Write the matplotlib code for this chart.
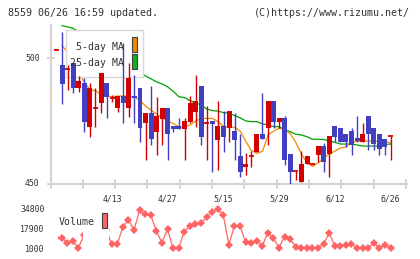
import numpy as np
import matplotlib
matplotlib.use("Agg")
import matplotlib.pyplot as plt
from matplotlib.patches import Rectangle
import matplotlib.transforms as mtransforms

# ---------------- data ----------------
date_labels = ["4/13", "4/27", "5/15", "5/29", "6/12", "6/26"]
date_label_idx = [10, 20, 30, 40, 50, 60]

opens = [503.3, 497.3, 495.6, 498.2, 488.1, 490.3, 472.8, 480.1, 482.1, 490.3,
         484.4, 480.1, 485.1, 480.1, 485.1, 488.3, 474.1, 478.1, 470.8, 475.7,
         480.1, 473.1, 473.1, 471.9, 474.8, 478.5, 489.0, 474.1, 475.1, 467.5,
         473.1, 472.2, 471.1, 461.1, 456.9, 461.1, 462.9, 469.9, 472.2, 483.0,
         474.8, 476.1, 461.9, 455.2, 450.9, 457.8, 457.8, 461.5, 465.1, 461.8,
         473.1, 472.2, 469.9, 471.1, 468.2, 466.8, 477.2, 472.2, 469.9, 468.0,
         469.0]
highs = [503.3, 510.3, 497.3, 498.2, 493.1, 492.0, 490.1, 488.1, 494.0, 490.3,
         485.5, 485.1, 506.0, 498.0, 493.4, 488.3, 478.1, 489.0, 484.7, 480.1,
         480.1, 473.1, 476.1, 476.1, 485.0, 493.4, 489.0, 481.0, 475.1, 483.0,
         479.0, 479.0, 478.1, 469.9, 462.2, 463.1, 469.9, 486.3, 483.0, 483.0,
         476.1, 477.1, 461.9, 455.2, 463.1, 461.1, 458.0, 465.1, 466.2, 469.1,
         473.1, 472.2, 469.9, 472.2, 477.2, 474.4, 477.2, 472.2, 469.9, 468.0,
         469.0]
lows = [503.3, 481.8, 487.4, 486.1, 486.7, 470.8, 468.8, 472.8, 478.1, 476.1,
        482.5, 478.5, 474.1, 476.8, 474.1, 466.8, 459.5, 465.5, 461.5, 465.5,
        459.5, 470.8, 471.9, 459.5, 474.1, 472.8, 465.5, 459.5, 454.9, 455.6,
        462.9, 466.8, 459.5, 452.9, 453.6, 456.9, 462.9, 467.8, 465.5, 472.2,
        472.2, 457.6, 449.6, 451.6, 450.9, 457.8, 457.6, 458.9, 454.9, 452.9,
        466.8, 466.8, 464.8, 461.5, 466.8, 466.8, 463.5, 463.5, 461.5, 461.5,
        459.5]
closes = [503.3, 489.8, 495.6, 488.1, 491.0, 474.8, 488.1, 480.1, 494.0, 484.7,
          484.4, 485.1, 482.1, 492.3, 484.1, 472.2, 478.1, 467.8, 477.1, 480.1,
          469.8, 471.9, 471.9, 475.1, 482.1, 483.0, 468.8, 474.1, 474.0, 473.1,
          468.8, 479.0, 467.5, 454.9, 458.0, 461.1, 469.9, 467.8, 483.0, 474.8,
          476.1, 459.5, 454.9, 455.2, 457.8, 461.1, 457.8, 465.1, 458.9, 469.1,
          468.8, 466.8, 466.8, 465.5, 467.0, 469.9, 469.8, 465.8, 463.8, 464.8,
          469.0]

ma5 = [np.nan, 505.0, 502.5, 498.0, 494.0, 490.6, 487.5, 487.1, 485.6, 485.0,
       484.7, 485.0, 485.0, 484.9, 484.7, 483.2, 481.0, 479.4, 477.8, 476.4,
       475.0, 474.0, 472.8, 472.6, 473.5, 475.0, 476.1, 476.1, 476.1, 474.8,
       473.0, 472.6, 472.6, 471.0, 467.0, 463.3, 462.2, 463.0, 469.5, 471.1,
       472.2, 471.5, 470.0, 466.5, 462.0, 458.4, 457.0, 458.4, 460.3, 461.9,
       463.1, 464.3, 464.8, 466.5, 467.0, 467.1, 467.1, 467.1, 466.8, 466.6,
       466.6]
ma25 = [np.nan, 513.0, 512.5, 511.9, 510.5, 509.0, 507.5, 506.0, 504.5, 503.0,
        501.5, 500.0, 498.5, 497.0, 495.2, 494.0, 493.0, 491.8, 490.6, 489.8,
        488.6, 486.8, 484.7, 484.4, 483.2, 482.2, 481.4, 479.8, 479.2, 479.0,
        478.4, 478.2, 477.2, 476.3, 475.1, 474.8, 474.8, 473.9, 473.5, 472.8,
        472.8, 471.5, 470.8, 469.8, 469.5, 468.8, 467.8, 467.8, 467.7, 467.1,
        466.6, 465.9, 465.9, 465.9, 465.5, 465.1, 465.1, 465.1, 465.1, 465.7,
        465.9]

volume = [10800, 10800, 6600, 8300, 1850, 13100, 20000, 14000, 16000, 17600,
          5200, 5200, 20100, 25800, 17300, 34200, 30600, 30000, 16500, 6600,
          17900, 1850, 1850, 15900, 20700, 22100, 23000, 28500, 32300, 35000,
          30000, 5000, 20700, 20700, 7400, 6100, 8000, 3800, 15000, 10300,
          2400, 11600, 9400, 3200, 2400, 1850, 1850, 2400, 5200, 15000,
          3800, 3800, 4600, 5200, 2400, 2400, 2400, 6100, 2400, 4600,
          2400]
vol_ticks = [1000, 17900, 34800]
price_ticks = [450, 500]

# ---------------- layout helpers ----------------
W, H = 420, 259
fig = plt.figure(figsize=(W / 100, H / 100), dpi=100)
fig.patch.set_facecolor("white")


def fx(px):
    return px / W


def fy(py):
    return 1 - py / H


MONO = "DejaVu Sans Mono"
TXT = "#333333"
GRID = "#d4d4d4"
RED = "#d40000"
BLUE = "#4040c0"
ORANGE = "#f08a00"
GREEN = "#00a000"
VOLC = "#ff6464"

X0, STEP = 56.0, 5.575          # pixel position of first candle, spacing
L, R, T, B = 50.5, 406.5, 25.0, 184.0


def idx_at(px):
    return (px - X0) / STEP


n = len(closes)
x = np.arange(n)

ax = fig.add_axes([fx(L), fy(B), (R - L) / W, (B - T) / H])
ax.set_xlim(idx_at(L), idx_at(R))
ax.set_ylim(450, 513.25)
ax.patch.set_alpha(0)
for s in ["top", "right"]:
    ax.spines[s].set_visible(False)
for s in ["left", "bottom"]:
    ax.spines[s].set_color(GRID)
    ax.spines[s].set_linewidth(1.6)
ax.set_yticks(price_ticks)
ax.set_xticks(np.linspace(idx_at(50.0), idx_at(406.0), 12))
ax.tick_params(axis="both", direction="inout", color=GRID, width=1.4,
               labelleft=False, labelbottom=False)
ax.tick_params(axis="y", length=6)
ax.tick_params(axis="x", length=6.5)

# moving averages (below legend box)
ax.plot(x, ma25, color=GREEN, lw=0.9, zorder=2)
ax.plot(x, ma5, color=ORANGE, lw=0.9, zorder=2)

# overlay axes: legend box first, candles on top of it
axc = fig.add_axes(ax.get_position(), sharex=ax, sharey=ax, zorder=5)
axc.axis("off")
axc.patch.set_alpha(0)
axc.add_artist(Rectangle((fx(65.7), fy(76.7)), (143.3 - 65.7) / W, (76.7 - 30) / H,
                         transform=fig.transFigure, facecolor="white",
                         edgecolor="#d8d8d8", lw=1.0, zorder=0.5, clip_on=False))
bw = 5.0 / STEP
for i in range(n):
    o, h, l, c = opens[i], highs[i], lows[i], closes[i]
    col = RED if c >= o else BLUE
    axc.vlines(i, l, h, color=col, lw=1.0, zorder=2)
    if abs(c - o) < 0.5:
        axc.hlines(o, i - bw / 2, i + bw / 2, color=col, lw=1.3, zorder=3)
    else:
        axc.bar(i, abs(c - o), bottom=min(o, c), width=bw, color=col, lw=0,
                zorder=3)

# legend contents
fig.text(fx(124.5), fy(47), "5-day MA", ha="right", va="center", family=MONO,
         fontsize=7.1, color=TXT, zorder=10)
fig.text(fx(124.5), fy(63), "25-day MA", ha="right", va="center", family=MONO,
         fontsize=7.1, color=TXT, zorder=10)
fig.patches.append(Rectangle((fx(131.7), fy(51.7)), 5.6 / W, 14.4 / H,
                             transform=fig.transFigure, facecolor=ORANGE,
                             edgecolor="#404040", lw=0.8, zorder=10))
fig.patches.append(Rectangle((fx(131.7), fy(69.0)), 5.6 / W, 14.7 / H,
                             transform=fig.transFigure, facecolor="#10b020",
                             edgecolor="#404040", lw=0.8, zorder=10))

# axis labels
for v in price_ticks:
    py = B - (v - 450) / (513.25 - 450) * (B - T)
    fig.text(fx(39.5), fy(py), str(v), ha="right", va="center", family=MONO,
             fontsize=5.9, color=TXT)
trans = mtransforms.blended_transform_factory(ax.transData, fig.transFigure)
for lab, i in zip(date_labels, date_label_idx):
    ax.text(i, fy(198.5), lab, transform=trans, ha="center", va="center",
            family=MONO, fontsize=5.9, color=TXT, clip_on=False)

# header
fig.text(fx(8), fy(12.5), "8559 06/26 16:59 updated.", ha="left", va="center",
         family=MONO, fontsize=7.2, color=TXT)
fig.text(fx(410), fy(12.5), "(C)https://www.rizumu.net/", ha="right", va="center",
         family=MONO, fontsize=7.2, color=TXT)

# ---------------- volume panel ----------------
VL, VT, VB = 58.0, 203.0, 253.0


def vol_at(py):
    return 1000 + (249.3 - py) * 845.0


axv = fig.add_axes([fx(VL), fy(VB), (R - VL) / W, (VB - VT) / H])
axv.set_xlim(idx_at(VL), idx_at(R))
axv.set_ylim(vol_at(VB), vol_at(VT))
axv.axis("off")
axv.plot(x, volume, color=VOLC, lw=0.9, marker="D", markersize=4.2,
         markeredgewidth=0, zorder=2)
axv.add_patch(Rectangle((idx_at(83.0), vol_at(VB)), (109.3 - 83.0) / STEP,
                        vol_at(VT) - vol_at(VB), facecolor="white", lw=0, zorder=3))
for v in vol_ticks:
    py = 249.3 - (v - 1000) / 845.0
    fig.text(fx(44.5), fy(py), str(v), ha="right", va="center", family=MONO,
             fontsize=5.9, color=TXT)
fig.text(fx(58.3), fy(222), "Volume", ha="left", va="center", family=MONO,
         fontsize=7.1, color=TXT, zorder=10)
fig.patches.append(Rectangle((fx(101.5), fy(228.3)), 5.8 / W, 15 / H,
                             transform=fig.transFigure, facecolor=VOLC,
                             edgecolor="#404040", lw=0.8, zorder=10))

fig.savefig("out.png", dpi=100, facecolor="white")
